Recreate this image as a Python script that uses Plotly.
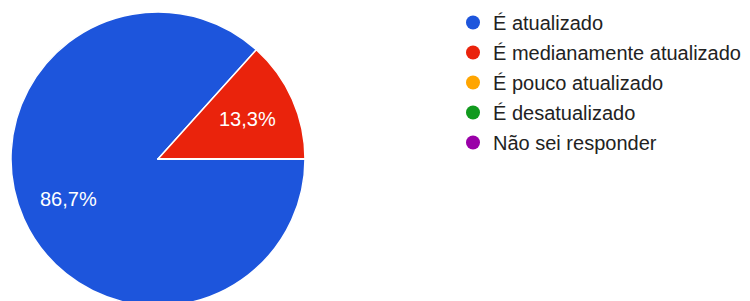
import math
import plotly.graph_objects as go

categories = ["É atualizado", "É medianamente atualizado", "É pouco atualizado",
              "É desatualizado", "Não sei responder"]
values = [13, 2, 0, 0, 0]
colors = ["#1D55DC", "#EA230C", "#FFA500", "#119A1E", "#9A00A8"]

FONT = "Liberation Sans, Arial, sans-serif"
W, H = 750, 310
M_L, M_R, M_T, M_B = 0, 0, 3, 4
PH = H - M_T - M_B
DOM_X = [11 / 750, 305 / 750]
DOM_Y = [0.0, 294 / PH]

fig = go.Figure()

fig.add_trace(go.Pie(
    labels=categories,
    values=values,
    sort=False,
    direction="clockwise",
    rotation=90,
    marker=dict(colors=colors, line=dict(color="white", width=1.5)),
    textinfo="none",
    hoverinfo="label+percent",
    showlegend=False,
    domain=dict(x=DOM_X, y=DOM_Y),
))

for i, (cat, col) in enumerate(zip(categories, colors)):
    fig.add_trace(go.Scatter(
        x=[None], y=[None], mode="markers",
        marker=dict(symbol="circle", size=14, color=col),
        name=cat, legendgroup=f"g{i}", showlegend=True,
    ))

# percentage labels placed at the slice mid-angles (derived from the values)
pw, ph = W - M_L - M_R, PH
dw, dh = (DOM_X[1] - DOM_X[0]) * pw, (DOM_Y[1] - DOM_Y[0]) * ph
R = min(dw, dh) / 2
cx, cy = (DOM_X[0] + DOM_X[1]) / 2, (DOM_Y[0] + DOM_Y[1]) / 2
total = sum(values)
cum = 0
annotations = []
for v in values:
    if v > 0:
        mid = (cum + v / 2) / total
        ang = -2 * math.pi * mid  # clockwise from 3 o'clock
        rr = 0.67 * R
        ax = cx + rr * math.cos(ang) / pw
        ay = cy + rr * math.sin(ang) / ph
        pct = f"{100 * v / total:.1f}".replace(".", ",") + "%"
        annotations.append(dict(
            x=ax, y=ay, xref="paper", yref="paper", text=pct, showarrow=False,
            font=dict(family=FONT, size=20, color="white"),
            xanchor="center", yanchor="middle",
        ))
    cum += v

fig.update_layout(
    width=W, height=H,
    margin=dict(l=M_L, r=M_R, t=M_T, b=M_B),
    paper_bgcolor="white", plot_bgcolor="white",
    separators=",.",
    xaxis=dict(visible=False), yaxis=dict(visible=False),
    annotations=annotations,
    legend=dict(
        x=453 / 750, xanchor="left", y=1.0, yanchor="top",
        font=dict(family=FONT, size=20, color="#222222"),
        tracegroupgap=1, itemclick=False, maxheight=290,
        bgcolor="rgba(0,0,0,0)",
    ),
)

fig.write_html(
    "out.html",
    config={"displayModeBar": False},
    post_script="document.body.style.margin='0';document.body.style.overflow='hidden';"
                "document.documentElement.style.overflow='hidden';",
)
